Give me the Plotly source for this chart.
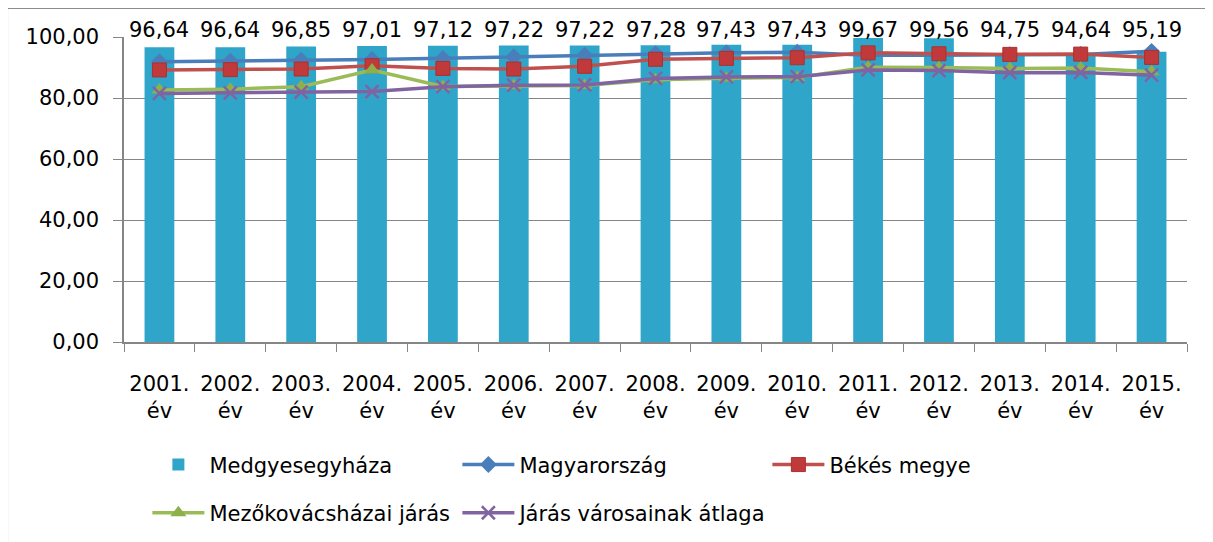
import plotly.graph_objects as go

categories = ["2001.<br>év", "2002.<br>év", "2003.<br>év", "2004.<br>év", "2005.<br>év",
              "2006.<br>év", "2007.<br>év", "2008.<br>év", "2009.<br>év", "2010.<br>év",
              "2011.<br>év", "2012.<br>év", "2013.<br>év", "2014.<br>év", "2015.<br>év"]
medgyesegyhaza = [96.64, 96.64, 96.85, 97.01, 97.12, 97.22, 97.22, 97.28, 97.43, 97.43,
                  99.67, 99.56, 94.75, 94.64, 95.19]
magyarorszag = [91.9, 92.1, 92.4, 92.6, 93.0, 93.5, 94.0, 94.5, 94.8, 95.0,
                94.0, 94.0, 94.2, 94.3, 95.3]
bekes = [89.2, 89.3, 89.5, 90.6, 89.7, 89.5, 90.4, 92.7, 93.0, 93.2,
         94.8, 94.5, 94.3, 94.4, 93.3]
mezokovacshazai = [82.6, 82.9, 83.7, 89.2, 83.8, 84.0, 84.1, 86.0, 86.5, 86.7,
                   90.1, 90.0, 89.7, 89.8, 88.6]
varosok = [81.5, 81.7, 81.9, 82.1, 83.7, 84.2, 84.3, 86.4, 86.9, 87.0,
           89.2, 89.0, 88.3, 88.4, 87.5]
y_ticks = [0, 20, 40, 60, 80, 100]

FONT = "DejaVu Sans"
FS = 21

fig = go.Figure()
fig.add_trace(go.Bar(x=categories, y=medgyesegyhaza, name="Medgyesegyháza",
                     marker=dict(color="#2FA5CA", line=dict(width=0)),
                     legend="legend"))
fig.add_trace(go.Scatter(x=categories, y=magyarorszag, name="Magyarország",
                         mode="lines+markers",
                         line=dict(color="#4A7EBB", width=3.5),
                         marker=dict(symbol="diamond", size=13, color="#4A7EBB"),
                         legend="legend"))
fig.add_trace(go.Scatter(x=categories, y=bekes, name="Békés megye",
                         mode="lines+markers",
                         line=dict(color="#C0504D", width=3.5),
                         marker=dict(symbol="square", size=14, color="#C0393B",
                                     line=dict(color="#A83230", width=1)),
                         legend="legend"))
fig.add_trace(go.Scatter(x=categories, y=mezokovacshazai, name="Mezőkovácsházai járás",
                         mode="lines+markers",
                         line=dict(color="#9BBB59", width=3.5),
                         marker=dict(symbol="triangle-up", size=14, color="#8DB04A"),
                         legend="legend2"))
fig.add_trace(go.Scatter(x=categories, y=varosok, name="Járás városainak átlaga",
                         mode="lines+markers",
                         line=dict(color="#8064A2", width=3.5),
                         marker=dict(symbol="x-thin", size=13,
                                     line=dict(color="#8064A2", width=2.5)),
                         legend="legend2"))

for cat, val in zip(categories, medgyesegyhaza):
    fig.add_annotation(x=cat, y=1, xref="x", yref="paper", yanchor="bottom",
                       text=f"{val:.2f}".replace(".", ","), showarrow=False,
                       yshift=-7, font=dict(family=FONT, size=FS, color="#000000"))

# outer chart border (only top and left edges are visible in the crop)
fig.add_shape(type="line", xref="paper", yref="paper",
              x0=-0.110, x1=1.03, y0=1.095, y1=1.095,
              line=dict(color="#8C8C8C", width=2), layer="below")
fig.add_shape(type="line", xref="paper", yref="paper",
              x0=-0.110, x1=-0.110, y0=-0.67, y1=1.095,
              line=dict(color="#8C8C8C", width=2), layer="below")

legend_common = dict(orientation="h", xanchor="left", yanchor="middle",
                     entrywidth=243, entrywidthmode="pixels", itemwidth=52,
                     font=dict(family=FONT, size=FS, color="#000000"),
                     bgcolor="rgba(0,0,0,0)")

fig.update_layout(
    width=1205, height=534,
    margin=dict(l=116, r=26, t=29, b=200, autoexpand=False),
    paper_bgcolor="white", plot_bgcolor="white",
    separators=", ",
    bargap=0.58,
    font=dict(family=FONT, size=FS, color="#000000"),
    legend=dict(x=0.022, y=-0.403, **legend_common),
    legend2=dict(x=0.022, y=-0.561, **legend_common),
    xaxis=dict(range=[-0.5, 14.5], showline=True, linecolor="#868686", linewidth=1.5,
               ticks="outside", tickson="boundaries", ticklen=8, tickcolor="#868686",
               ticklabelstandoff=22,
               tickfont=dict(family=FONT, size=FS, color="#000000"),
               showgrid=False),
    yaxis=dict(range=[0, 100], tickvals=y_ticks, tickformat=".2f",
               showline=True, linecolor="#868686", linewidth=1.5,
               ticks="outside", ticklen=9, tickcolor="#868686",
               ticklabelstandoff=10,
               showgrid=True, gridcolor="#868686", gridwidth=1,
               tickfont=dict(family=FONT, size=FS, color="#000000"),
               zeroline=False),
)

fig.write_html("out.html")
